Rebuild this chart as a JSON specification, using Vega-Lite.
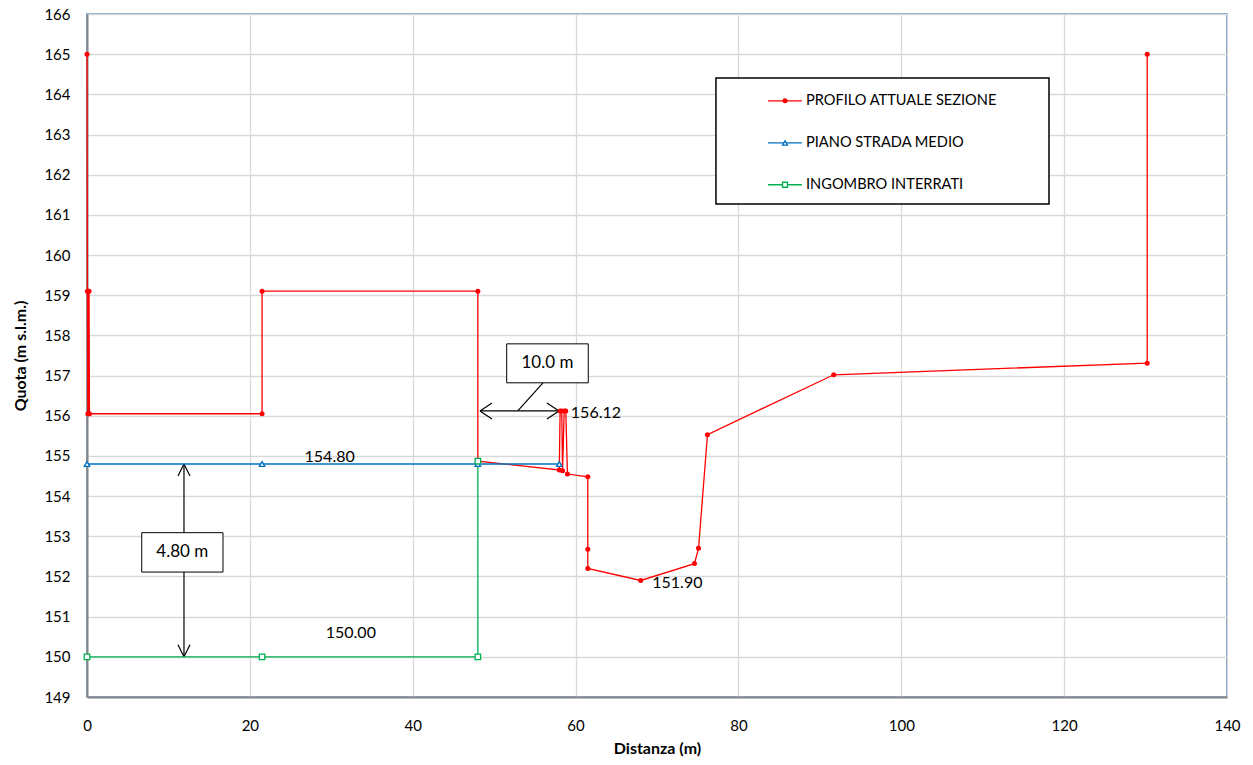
{
  "$schema": "https://vega.github.io/schema/vega-lite/v6.json",
  "width": 1140,
  "height": 683,
  "autosize": {"type": "none"},
  "padding": {"left": 87, "top": 14, "right": 26, "bottom": 68},
  "background": "white",
  "datasets": {
    "profile": [
      {"s": "PROFILO ATTUALE SEZIONE", "i": 0, "x": 0.0, "y": 165.0},
      {"s": "PROFILO ATTUALE SEZIONE", "i": 1, "x": 0.05, "y": 159.1},
      {"s": "PROFILO ATTUALE SEZIONE", "i": 2, "x": 0.1, "y": 156.05},
      {"s": "PROFILO ATTUALE SEZIONE", "i": 3, "x": 0.15, "y": 159.1},
      {"s": "PROFILO ATTUALE SEZIONE", "i": 4, "x": 0.2, "y": 156.05},
      {"s": "PROFILO ATTUALE SEZIONE", "i": 5, "x": 0.25, "y": 159.1},
      {"s": "PROFILO ATTUALE SEZIONE", "i": 6, "x": 0.3, "y": 156.05},
      {"s": "PROFILO ATTUALE SEZIONE", "i": 7, "x": 21.5, "y": 156.05},
      {"s": "PROFILO ATTUALE SEZIONE", "i": 8, "x": 21.5, "y": 159.1},
      {"s": "PROFILO ATTUALE SEZIONE", "i": 9, "x": 48.0, "y": 159.1},
      {"s": "PROFILO ATTUALE SEZIONE", "i": 10, "x": 48.0, "y": 154.87},
      {"s": "PROFILO ATTUALE SEZIONE", "i": 11, "x": 58.0, "y": 154.65},
      {"s": "PROFILO ATTUALE SEZIONE", "i": 12, "x": 58.1, "y": 156.12},
      {"s": "PROFILO ATTUALE SEZIONE", "i": 13, "x": 58.3, "y": 156.12},
      {"s": "PROFILO ATTUALE SEZIONE", "i": 14, "x": 58.4, "y": 154.63},
      {"s": "PROFILO ATTUALE SEZIONE", "i": 15, "x": 58.6, "y": 156.12},
      {"s": "PROFILO ATTUALE SEZIONE", "i": 16, "x": 58.8, "y": 156.12},
      {"s": "PROFILO ATTUALE SEZIONE", "i": 17, "x": 59.0, "y": 154.55},
      {"s": "PROFILO ATTUALE SEZIONE", "i": 18, "x": 61.5, "y": 154.48},
      {"s": "PROFILO ATTUALE SEZIONE", "i": 19, "x": 61.5, "y": 152.68},
      {"s": "PROFILO ATTUALE SEZIONE", "i": 20, "x": 61.5, "y": 152.2},
      {"s": "PROFILO ATTUALE SEZIONE", "i": 21, "x": 68.0, "y": 151.9},
      {"s": "PROFILO ATTUALE SEZIONE", "i": 22, "x": 74.6, "y": 152.32},
      {"s": "PROFILO ATTUALE SEZIONE", "i": 23, "x": 75.1, "y": 152.7},
      {"s": "PROFILO ATTUALE SEZIONE", "i": 24, "x": 76.2, "y": 155.53},
      {"s": "PROFILO ATTUALE SEZIONE", "i": 25, "x": 91.7, "y": 157.02},
      {"s": "PROFILO ATTUALE SEZIONE", "i": 26, "x": 130.2, "y": 157.31},
      {"s": "PROFILO ATTUALE SEZIONE", "i": 27, "x": 130.2, "y": 165.0},
      {"s": "PIANO STRADA MEDIO", "i": 0, "x": 0.0, "y": 154.8},
      {"s": "PIANO STRADA MEDIO", "i": 1, "x": 21.5, "y": 154.8},
      {"s": "PIANO STRADA MEDIO", "i": 2, "x": 48.0, "y": 154.8},
      {"s": "PIANO STRADA MEDIO", "i": 3, "x": 58.0, "y": 154.8},
      {"s": "INGOMBRO INTERRATI", "i": 0, "x": 0.0, "y": 150.0},
      {"s": "INGOMBRO INTERRATI", "i": 1, "x": 21.5, "y": 150.0},
      {"s": "INGOMBRO INTERRATI", "i": 2, "x": 48.0, "y": 150.0},
      {"s": "INGOMBRO INTERRATI", "i": 3, "x": 48.0, "y": 154.87}
    ],
    "labels": [
      {"x": 29.8, "y": 154.97, "t": "154.80"},
      {"x": 32.4, "y": 150.6, "t": "150.00"},
      {"x": 62.5, "y": 156.07, "t": "156.12"},
      {"x": 72.5, "y": 151.84, "t": "151.90"}
    ],
    "boxlabels": [
      {"x": 56.55, "y": 157.32, "t": "10.0 m"},
      {"x": 11.7, "y": 152.6, "t": "4.80 m"}
    ],
    "boxes": [
      {"x": 51.54, "x2": 61.56, "y": 156.82, "y2": 157.79},
      {"x": 6.72, "x2": 16.7, "y": 152.11, "y2": 153.09}
    ],
    "legendbox": [
      {"x": 77.24, "x2": 118.14, "y": 161.27, "y2": 164.41}
    ],
    "leglines": [
      {"s": "PROFILO ATTUALE SEZIONE", "x": 83.63, "x2": 87.8, "y": 163.84},
      {"s": "PIANO STRADA MEDIO", "x": 83.63, "x2": 87.8, "y": 162.79},
      {"s": "INGOMBRO INTERRATI", "x": 83.63, "x2": 87.8, "y": 161.75}
    ],
    "legmarks": [
      {"s": "PROFILO ATTUALE SEZIONE", "x": 85.72, "y": 163.84},
      {"s": "PIANO STRADA MEDIO", "x": 85.72, "y": 162.79},
      {"s": "INGOMBRO INTERRATI", "x": 85.72, "y": 161.75}
    ],
    "legtext": [
      {"x": 88.3, "y": 163.84, "t": "PROFILO ATTUALE SEZIONE"},
      {"x": 88.3, "y": 162.79, "t": "PIANO STRADA  MEDIO"},
      {"x": 88.3, "y": 161.75, "t": "INGOMBRO  INTERRATI"}
    ],
    "arrows": [
      {"x": 56.0, "y": 156.82, "x2": 52.9, "y2": 156.12},
      {"x": 48.26, "y": 156.12, "x2": 57.96, "y2": 156.12},
      {"x": 48.26, "y": 156.12, "x2": 49.73, "y2": 156.32},
      {"x": 48.26, "y": 156.12, "x2": 49.73, "y2": 155.92},
      {"x": 57.96, "y": 156.12, "x2": 56.49, "y2": 156.32},
      {"x": 57.96, "y": 156.12, "x2": 56.49, "y2": 155.92},
      {"x": 11.91, "y": 154.8, "x2": 11.91, "y2": 150.0},
      {"x": 11.91, "y": 154.8, "x2": 11.17, "y2": 154.5},
      {"x": 11.91, "y": 154.8, "x2": 12.65, "y2": 154.5},
      {"x": 11.91, "y": 150.0, "x2": 11.17, "y2": 150.3},
      {"x": 11.91, "y": 150.0, "x2": 12.65, "y2": 150.3}
    ]
  },
  "encoding": {
    "x": {
      "field": "x", "type": "quantitative",
      "scale": {"domain": [0, 140], "nice": false},
      "axis": {"title": "Distanza (m)", "values": [0, 20, 40, 60, 80, 100, 120, 140]}
    },
    "y": {
      "field": "y", "type": "quantitative",
      "scale": {"domain": [149, 166], "nice": false, "zero": false},
      "axis": {"title": "Quota (m s.l.m.)", "values": [149, 150, 151, 152, 153, 154, 155, 156, 157, 158, 159, 160, 161, 162, 163, 164, 165, 166]}
    }
  },
  "layer": [
    {
      "data": {"name": "legendbox"},
      "mark": {"type": "rect", "fill": "white", "stroke": "black", "strokeWidth": 1.5},
      "encoding": {"x2": {"field": "x2"}, "y2": {"field": "y2"}}
    },
    {
      "data": {"name": "arrows"},
      "mark": {"type": "rule", "color": "black", "strokeWidth": 1.2},
      "encoding": {"x2": {"field": "x2"}, "y2": {"field": "y2"}}
    },
    {
      "data": {"name": "boxes"},
      "mark": {"type": "rect", "fill": "white", "stroke": "black", "strokeWidth": 1},
      "encoding": {"x2": {"field": "x2"}, "y2": {"field": "y2"}}
    },
    {
      "data": {"name": "profile"},
      "mark": {"type": "line", "strokeWidth": 1.3},
      "encoding": {
        "color": {
          "field": "s", "type": "nominal",
          "scale": {"domain": ["PROFILO ATTUALE SEZIONE", "PIANO STRADA MEDIO", "INGOMBRO INTERRATI"], "range": ["#ff0000", "#0070c0", "#00b050"]},
          "legend": null
        },
        "order": {"field": "i", "type": "quantitative"}
      }
    },
    {
      "data": {"name": "leglines"},
      "mark": {"type": "rule", "strokeWidth": 1.3},
      "encoding": {
        "x2": {"field": "x2"},
        "color": {"field": "s", "type": "nominal", "legend": null}
      }
    },
    {
      "data": {"name": "profile"},
      "transform": [{"filter": "datum.s == 'PROFILO ATTUALE SEZIONE'"}],
      "mark": {"type": "point", "shape": "circle", "filled": true, "color": "#ff0000", "size": 25, "opacity": 1}
    },
    {
      "data": {"name": "profile"},
      "transform": [{"filter": "datum.s == 'PIANO STRADA MEDIO'"}],
      "mark": {"type": "point", "shape": "triangle-up", "fill": "white", "stroke": "#0070c0", "strokeWidth": 1.3, "size": 30, "opacity": 1}
    },
    {
      "data": {"name": "profile"},
      "transform": [{"filter": "datum.s == 'INGOMBRO INTERRATI'"}],
      "mark": {"type": "point", "shape": "square", "fill": "white", "stroke": "#00b050", "strokeWidth": 1.3, "size": 30, "opacity": 1}
    },
    {
      "data": {"name": "legmarks"},
      "transform": [{"filter": "datum.s == 'PROFILO ATTUALE SEZIONE'"}],
      "mark": {"type": "point", "shape": "circle", "filled": true, "color": "#ff0000", "size": 25, "opacity": 1}
    },
    {
      "data": {"name": "legmarks"},
      "transform": [{"filter": "datum.s == 'PIANO STRADA MEDIO'"}],
      "mark": {"type": "point", "shape": "triangle-up", "fill": "white", "stroke": "#0070c0", "strokeWidth": 1.3, "size": 25, "opacity": 1}
    },
    {
      "data": {"name": "legmarks"},
      "transform": [{"filter": "datum.s == 'INGOMBRO INTERRATI'"}],
      "mark": {"type": "point", "shape": "square", "fill": "white", "stroke": "#00b050", "strokeWidth": 1.3, "size": 25, "opacity": 1}
    },
    {
      "data": {"name": "legtext"},
      "mark": {"type": "text", "font": "Lato", "fontSize": 14.6, "color": "black", "align": "left", "baseline": "middle"},
      "encoding": {"text": {"field": "t"}}
    },
    {
      "data": {"name": "labels"},
      "mark": {"type": "text", "font": "Lato", "fontSize": 16, "color": "black", "align": "center", "baseline": "middle"},
      "encoding": {"text": {"field": "t"}}
    },
    {
      "data": {"name": "boxlabels"},
      "mark": {"type": "text", "font": "Lato", "fontSize": 17, "color": "black", "align": "center", "baseline": "middle"},
      "encoding": {"text": {"field": "t"}}
    }
  ],
  "config": {
    "font": "Lato",
    "view": {"stroke": "#4f81bd", "strokeWidth": 1.5},
    "axis": {
      "grid": true, "gridColor": "#d9d9d9", "gridWidth": 1.3,
      "domainColor": "#868686", "domainWidth": 2,
      "ticks": false, "tickSize": 0, "labelFlush": false,
      "labelFont": "Lato", "labelFontSize": 15, "labelColor": "black",
      "titleFont": "Lato", "titleFontSize": 16, "titleFontWeight": "bold", "titleColor": "black"
    },
    "axisX": {"labelPadding": 21, "titlePadding": 7},
    "axisY": {"labelPadding": 17, "titlePadding": 15}
  }
}
